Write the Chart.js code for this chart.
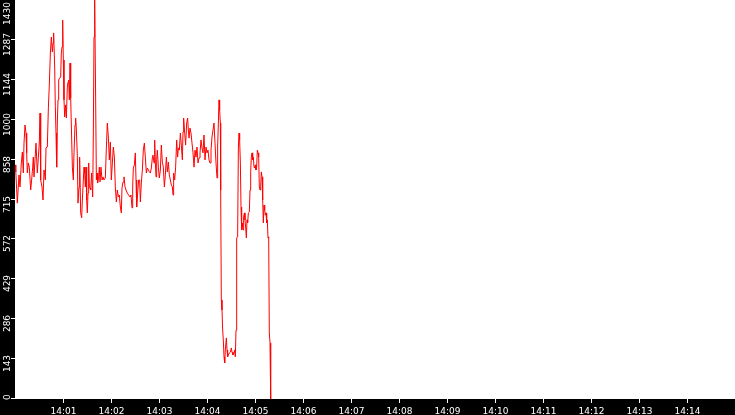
<!DOCTYPE html>
<html>
<head>
<meta charset="utf-8">
<script src="https://cdn.jsdelivr.net/npm/chart.js@4"></script>
<style>
html,body{margin:0;padding:0;background:#fff;overflow:hidden;}
canvas{display:block;}
</style>
</head>
<body>
<canvas id="c" width="735" height="415"></canvas>
<script>
// seconds after 14:00:00
const times = [0,1,2.9,5,6.25,7.9,9.2,10.4,11.25,12.5,13.75,14.6,15.4,16.7,17.9,19.6,20.8,22.1,22.9,23.75,25,26.25,27.9,29.2,30.4,31.25,32.1,33.75,35,36.25,37.9,38.75,40.4,41.7,42.9,44.2,45.4,46.7,47.5,48.3,49.6,50.4,51.25,52.1,52.9,53.75,54.6,55.8,57.1,57.9,58.75,59.6,60.4,61.25,62.1,63.3,64.2,65.4,66.25,67.1,67.9,68.75,69.6,70.8,71.7,72.9,73.75,75,75.8,76.7,77.9,78.75,80,80.8,82.1,83.3,84.2,85.4,86.25,87.1,87.9,88.75,89.6,90.4,91.25,92.1,92.9,93.75,94.6,95.8,97.1,97.9,98.75,99.6,100.8,101.7,102.5,103.3,104.6,105.4,106.25,107.5,108.75,110,
111.25,112.9,114.2,115.4,116.7,117.9,119.2,120.4,121.7,122.9,124.2,125.4,126.7,127.9,129.2,130.4,131.7,132.9,133.75,135,136.25,137.5,138.75,140.4,142.1,143.75,145,146.25,147.1,147.9,149.2,150.4,151.25,152.1,153.3,154.6,155.8,156.7,157.9,159.2,160.4,161.7,162.9,164.2,165.4,166.7,167.9,169.2,170.4,171.7,172.5,173.75,174.6,175.4,176.25,177.1,177.9,179.2,180.4,181.7,182.9,184.2,185.4,186.7,187.9,189.2,190.4,191.7,192.9,194.2,195.4,196.7,197.5,198.3,199.6,200.8,202.1,203.3,204.2,205.4,206.7,207.9,209.2,210,210.8,212.1,213.3,214.6,215.8,216.7,217.5,
218.75,220,221.25,222.5,223.75,225,226.25,227.5,228.75,230,231.25,232.5,233.75,235,236.25,237.5,238.75,240,241.25,242.5,243.75,245,246.25,247.5,248.75,250,251.25,252.5,253.3,254.2,255,255.8,256.7,257.1,257.9,258.75,259.6,260.4,261.25,262.1,262.9,264.2,265,265.8,266.7,267.9,269.2,270.4,271.25,272.5,273.75,274.6,275.4,276.25,277.1,278.3,279.2,280,280.8,281.7,282.5,283.3,284.2,285,285.8,286.7,287.5,288.3,289.2,290,290.8,291.7,292.9,293.75,294.6,295.4,296.25,297.1,297.9,298.75,299.6,300.4,301.25,302.1,302.9,303.75,304.6,305.4,306.25,307.1,307.9,308.75,309.6,310.4,311.25,312.1,312.9,313.75,314.6,315.4,316.25,317.1,317.9,318.75,319.6];
const values = [839,814,702,803,760,846,885,810,917,982,953,882,810,846,831,749,785,831,867,796,857,917,810,867,921,1025,785,760,713,821,785,900,903,1043,1125,1240,1297,1244,1276,1312,1190,1047,953,831,989,1072,1143,1150,1154,1240,1262,1358,1215,1072,1011,1054,1007,1118,1136,1143,1072,1204,1079,939,831,785,882,982,1007,964,874,702,760,867,667,649,713,785,831,810,760,831,713,667,738,846,760,756,749,810,724,946,1297,1430,1082,785,810,774,796,831,778,831,785,796,
785,792,900,989,939,857,921,785,846,903,867,760,706,749,724,731,688,667,756,778,796,760,749,738,731,724,731,685,760,828,839,882,785,688,738,785,785,706,774,821,892,917,867,810,828,821,814,810,828,864,874,846,928,849,796,857,892,831,792,821,910,849,831,760,803,867,814,849,803,785,767,760,731,810,785,831,928,867,900,892,953,910,857,957,1007,953,910,989,1007,964,935,
971,953,917,882,831,892,867,903,846,864,882,928,900,882,946,857,903,882,892,857,846,892,939,964,989,917,846,792,903,989,1072,1036,989,749,355,319,247,211,151,129,176,219,176,151,158,165,168,183,168,158,165,176,151,247,577,581,903,953,928,846,688,606,631,606,652,667,642,616,577,642,631,667,670,749,814,867,882,857,867,831,828,839,821,831,892,882,867,760,749,760,814,796,713,631,695,677,659,667,631,642,577,581,237,201,0];

const yTickValues = [0,143,286,429,572,715,858,1001,1144,1287,1430];
const yTickLabels = ['0','143','286','429','572','715','858','1000','1144','1287','1430'];
const xTickValues = [60,120,180,240,300,360,420,480,540,600,660,720,780,840];
const xTickLabels = ['14:01','14:02','14:03','14:04','14:05','14:06','14:07','14:08','14:09','14:10','14:11','14:12','14:13','14:14'];

const axesPlugin = {
  id: 'blackAxes',
  afterDraw(chart) {
    const ctx = chart.ctx, a = chart.chartArea, x = chart.scales.x, y = chart.scales.y;
    ctx.save();
    ctx.fillStyle = '#000';
    ctx.fillRect(0, 0, a.left, chart.height);
    ctx.fillRect(0, a.bottom, chart.width, chart.height - a.bottom);
    ctx.strokeStyle = '#fff';
    ctx.fillStyle = '#fff';
    ctx.lineWidth = 1;
    ctx.font = '9px "DejaVu Sans"';
    xTickValues.forEach((v, i) => {
      const px = Math.round(x.getPixelForValue(v)) + 0.5;
      ctx.beginPath();
      ctx.moveTo(px, a.bottom);
      ctx.lineTo(px, a.bottom + 4);
      ctx.stroke();
      ctx.textAlign = 'center';
      ctx.textBaseline = 'alphabetic';
      ctx.fillText(xTickLabels[i], px, chart.height - 1);
    });
    yTickValues.forEach((v, i) => {
      const py = Math.round(y.getPixelForValue(v)) - 0.5;
      ctx.beginPath();
      ctx.moveTo(a.left - 4, py);
      ctx.lineTo(a.left, py);
      ctx.stroke();
      const w = ctx.measureText(yTickLabels[i]).width;
      let c = py + 5;
      c = Math.max(c, 2 + w / 2);
      c = Math.min(c, a.bottom + 1 - w / 2);
      ctx.save();
      ctx.translate(9.5, c);
      ctx.rotate(-Math.PI / 2);
      ctx.textAlign = 'center';
      ctx.textBaseline = 'alphabetic';
      ctx.fillText(yTickLabels[i], 0, 0);
      ctx.restore();
    });
    ctx.restore();
  }
};

new Chart(document.getElementById('c'), {
  type: 'line',
  data: {
    datasets: [{
      data: times.map((t, i) => ({x: t, y: values[i]})),
      borderColor: '#ff0000',
      borderWidth: 1,
      pointRadius: 0,
      tension: 0,
      fill: false
    }]
  },
  options: {
    responsive: false,
    animation: false,
    devicePixelRatio: 1,
    layout: {padding: {left: 15, bottom: 16, top: 0, right: 0}},
    plugins: {legend: {display: false}, tooltip: {enabled: false}},
    scales: {
      x: {type: 'linear', min: 0, max: 900, display: false},
      y: {type: 'linear', min: 0, max: 1430, display: false}
    }
  },
  plugins: [axesPlugin]
});
</script>
</body>
</html>
